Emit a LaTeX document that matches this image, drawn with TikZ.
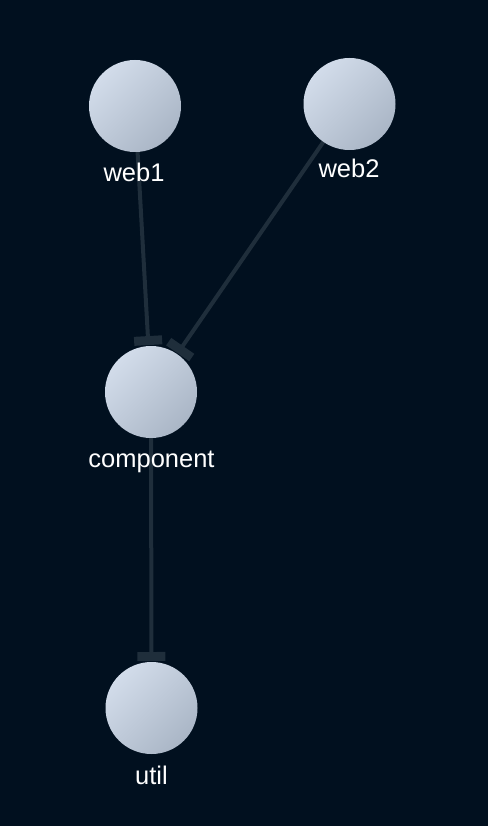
\documentclass[tikz,border=0pt]{standalone}
\usepackage{fontspec}
\setmainfont{Liberation Sans}
\usetikzlibrary{arrows.meta}
\pgfdeclarelayer{bglayer}
\pgfdeclarelayer{edges}
\pgfsetlayers{bglayer,edges,main}
\definecolor{bg}{HTML}{01101F}
\definecolor{edgecol}{HTML}{1F2E3B}
\definecolor{nodelight}{HTML}{D2DCEA}
\definecolor{nodedark}{HTML}{AAB6C6}
\tikzset{
  pkg/.style={circle, draw=none, inner sep=0pt, outer sep=0pt, minimum size=92pt,
    top color=nodelight, bottom color=nodedark, shading angle=45},
  lbl/.style={text=white, font=\fontsize{25.5pt}{30pt}\selectfont, anchor=base, inner sep=0pt},
  dep/.style={draw=edgecol, line width=4pt, shorten >=1pt,
    -{Rectangle[length=9pt,width=28pt]}},
}
\begin{document}
\begin{tikzpicture}[x=1pt,y=-1pt]
\begin{pgfonlayer}{bglayer}
\fill[bg] (0,0) rectangle (488,826);
\end{pgfonlayer}
\useasboundingbox (0,0) rectangle (488,826);
\node[pkg] (web1) at (135,106) {};
\node[pkg] (web2) at (349.5,104) {};
\node[pkg] (component) at (151,392) {};
\node[pkg] (util) at (151.5,708) {};
\begin{pgfonlayer}{edges}
\draw[dep] (web1.center) -- (component);
\draw[dep] (web2.center) -- (component);
\draw[dep] (component.center) -- (util);
\end{pgfonlayer}
\node[lbl] (lweb1) at (134,182) {web1};
\node[lbl] (lweb2) at (349,178) {web2};
\node[lbl] (lcomp) at (151.5,467) {component};
\node[lbl] (lutil) at (151.5,784) {util};
\end{tikzpicture}
\end{document}
